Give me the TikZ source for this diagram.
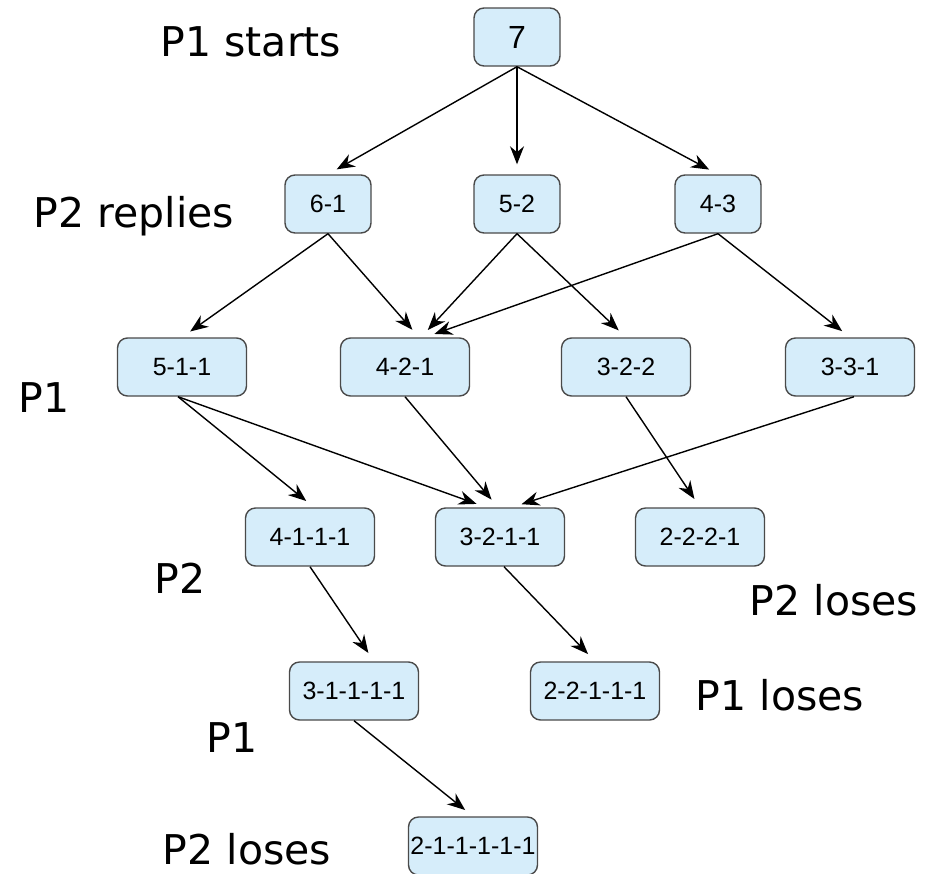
\documentclass[tikz,border=0pt]{standalone}
\usepackage{xcolor}
\usepackage{tikz}
\usepackage{fontspec}
\setmainfont{Liberation Sans}
\newfontfamily\verdanafont{DejaVu Sans}
\usetikzlibrary{arrows.meta, positioning}
\definecolor{nimfill}{HTML}{D6EDFA}
\definecolor{nimedge}{HTML}{4A4A4A}

\begin{document}
\begin{tikzpicture}[x=0.5pt, y=-0.5pt,
    state/.style={draw=nimedge, fill=nimfill, line width=0.7pt, rounded corners=5pt, minimum width=43pt, minimum height=29pt, inner sep=0pt, font=\fontsize{12.5}{15}\selectfont},
    widestate/.style={state, minimum width=64.5pt},
    move/.style={-{Stealth[length=9pt, width=7pt]}, line width=0.7pt, shorten >=5pt},
    turn/.style={font=\verdanafont\fontsize{20.5}{24}\selectfont}]
    \useasboundingbox (0,0) rectangle (936,873);

    % Start
    \node[state, font=\fontsize{16}{18}\selectfont] (s7) at (517,37) {7};

    % P2 replies
    \node[state] (s61) at (328,204) {6-1};
    \node[state] (s52) at (517,204) {5-2};
    \node[state] (s43) at (718,204) {4-3};

    % P1
    \node[widestate] (s511) at (182,367) {5-1-1};
    \node[widestate] (s421) at (405,367) {4-2-1};
    \node[widestate] (s322) at (626,367) {3-2-2};
    \node[widestate] (s331) at (850,367) {3-3-1};

    % P2
    \node[widestate] (s4111) at (310,537) {4-1-1-1};
    \node[widestate] (s3211) at (500,537) {3-2-1-1};
    \node[widestate] (s2221) at (700,537) {2-2-2-1};

    % P1
    \node[widestate] (s31111) at (354,691) {3-1-1-1-1};
    \node[widestate] (s22111) at (595,691) {2-2-1-1-1};

    % P2
    \node[widestate] (s211111) at (473,846) {2-1-1-1-1-1};

    % Moves
    \draw[move] (s7.south) -- (s61.north);
    \draw[move] (s7.south) -- (s52.north);
    \draw[move] (s7.south) -- (s43.north);

    \draw[move] (s61.south) -- (s511.north);
    \draw[move] (s61.south) -- ([xshift=7pt]s421.north);
    \draw[move] (s52.south) -- ([xshift=8pt]s421.north);
    \draw[move] (s52.south) -- (s322.north);
    \draw[move] (s43.south) -- ([xshift=10pt]s421.north);
    \draw[move] (s43.south) -- (s331.north);

    \draw[move] ([xshift=-2pt]s511.south) -- ([xshift=2pt]s4111.north);
    \draw[move] ([xshift=-2pt]s511.south) -- ([xshift=-7pt]s3211.north);
    \draw[move] (s421.south) -- ([xshift=-1pt]s3211.north);
    \draw[move] ([xshift=2pt]s331.south) -- ([xshift=6pt]s3211.north);
    \draw[move] (s322.south) -- (s2221.north);

    \draw[move] (s4111.south) -- ([xshift=10pt]s31111.north);
    \draw[move] ([xshift=2pt]s3211.south) -- (s22111.north);
    \draw[move] (s31111.south) -- (s211111.north);

    % Turns
    \node[turn] (t1) at (251,42) {P1 starts};
    \node[turn] (t2) at (134,216) {P2 replies};
    \node[turn] (t3) at (44,398) {P1};
    \node[turn] (t4) at (180,578) {P2};
    \node[turn] (t5) at (834,600) {P2 loses};
    \node[turn] (t6) at (780,695) {P1 loses};
    \node[turn] (t7) at (232,738) {P1};
    \node[turn] (t8) at (247,849) {P2 loses};
\end{tikzpicture}
\end{document}
